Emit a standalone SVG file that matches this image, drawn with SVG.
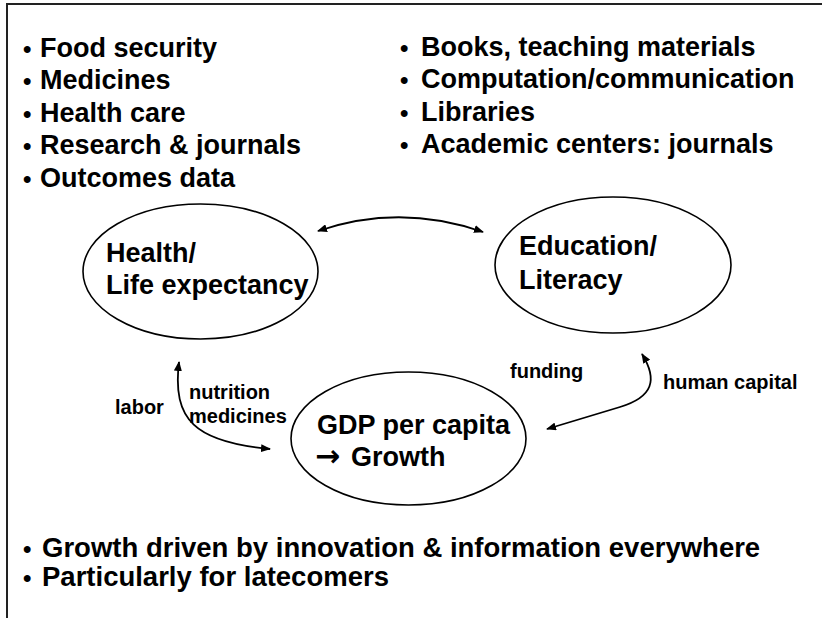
<svg xmlns="http://www.w3.org/2000/svg" width="822" height="618" viewBox="0 0 822 618">
<defs>
<style>
.b{font-family:"Liberation Sans",Arial,sans-serif;font-weight:bold;font-size:27px;fill:#000}
.bu{font-size:24px}
.n{font-family:"Liberation Sans",Arial,sans-serif;font-weight:bold;font-size:27px;fill:#000}
.ar{font-family:"DejaVu Sans",sans-serif;font-weight:bold;font-size:30px}
.l{font-family:"Liberation Sans",Arial,sans-serif;font-weight:bold;font-size:20px;fill:#000}
.e{fill:#fff;stroke:#000;stroke-width:1.6}
.c{fill:none;stroke:#000;stroke-width:1.8}
</style>
<marker id="ah" viewBox="0 0 10 8" refX="9" refY="4" markerWidth="10" markerHeight="8" markerUnits="userSpaceOnUse" orient="auto-start-reverse">
<path d="M0,0 L10,4 L0,8 Z" fill="#000"/>
</marker>
</defs>
<rect width="822" height="618" fill="#fff"/>
<path d="M7,618 V4 H822" fill="none" stroke="#222" stroke-width="2"/>
<g id="bullets-left">
<text class="b" y="57"><tspan class="bu" x="23">•</tspan><tspan x="40">Food security</tspan></text>
<text class="b" y="89"><tspan class="bu" x="23">•</tspan><tspan x="40">Medicines</tspan></text>
<text class="b" y="122"><tspan class="bu" x="23">•</tspan><tspan x="40">Health care</tspan></text>
<text class="b" y="154"><tspan class="bu" x="23">•</tspan><tspan x="40">Research &amp; journals</tspan></text>
<text class="b" y="187"><tspan class="bu" x="23">•</tspan><tspan x="40">Outcomes data</tspan></text>
</g>
<g id="bullets-right">
<text class="b" y="56"><tspan class="bu" x="400">•</tspan><tspan x="421">Books, teaching materials</tspan></text>
<text class="b" y="88"><tspan class="bu" x="400">•</tspan><tspan x="421">Computation/communication</tspan></text>
<text class="b" y="121"><tspan class="bu" x="400">•</tspan><tspan x="421">Libraries</tspan></text>
<text class="b" y="153"><tspan class="bu" x="400">•</tspan><tspan x="421">Academic centers: journals</tspan></text>
</g>
<g id="health">
<ellipse class="e" cx="200.5" cy="271.5" rx="117.5" ry="67.5"/>
<text class="n" x="106" y="262">Health/</text>
<text class="n" x="106" y="294">Life expectancy</text>
</g>
<g id="education">
<ellipse class="e" cx="613" cy="265" rx="118" ry="68"/>
<text class="n" x="519" y="255">Education/</text>
<text class="n" x="519" y="289">Literacy</text>
</g>
<g id="gdp">
<ellipse class="e" cx="408.5" cy="438.5" rx="117.5" ry="66.5"/>
<text class="n" x="317" y="434">GDP per capita</text>
<text class="n" y="466"><tspan class="ar" x="315">→</tspan><tspan x="351">Growth</tspan></text>
</g>
<g id="connectors">
<path class="c" d="M318,231 Q400,203 483,232" marker-start="url(#ah)" marker-end="url(#ah)"/>
<path class="c" d="M179,362 C172,420 195,442 270,449" marker-start="url(#ah)" marker-end="url(#ah)"/>
<path class="c" d="M642,354 C658,380 653,397 620,407 L547,429" marker-start="url(#ah)" marker-end="url(#ah)"/>
</g>
<g id="labels">
<text class="l" x="115" y="414">labor</text>
<text class="l" x="189" y="399">nutrition</text>
<text class="l" x="189" y="423">medicines</text>
<text class="l" x="510" y="378">funding</text>
<text class="l" x="663" y="389">human capital</text>
</g>
<g id="bullets-bottom">
<text class="b" y="557" style="font-size:27.5px"><tspan class="bu" x="23">•</tspan><tspan x="42">Growth driven by innovation &amp; information everywhere</tspan></text>
<text class="b" y="586" style="font-size:27.5px"><tspan class="bu" x="23">•</tspan><tspan x="42">Particularly for latecomers</tspan></text>
</g>
</svg>
